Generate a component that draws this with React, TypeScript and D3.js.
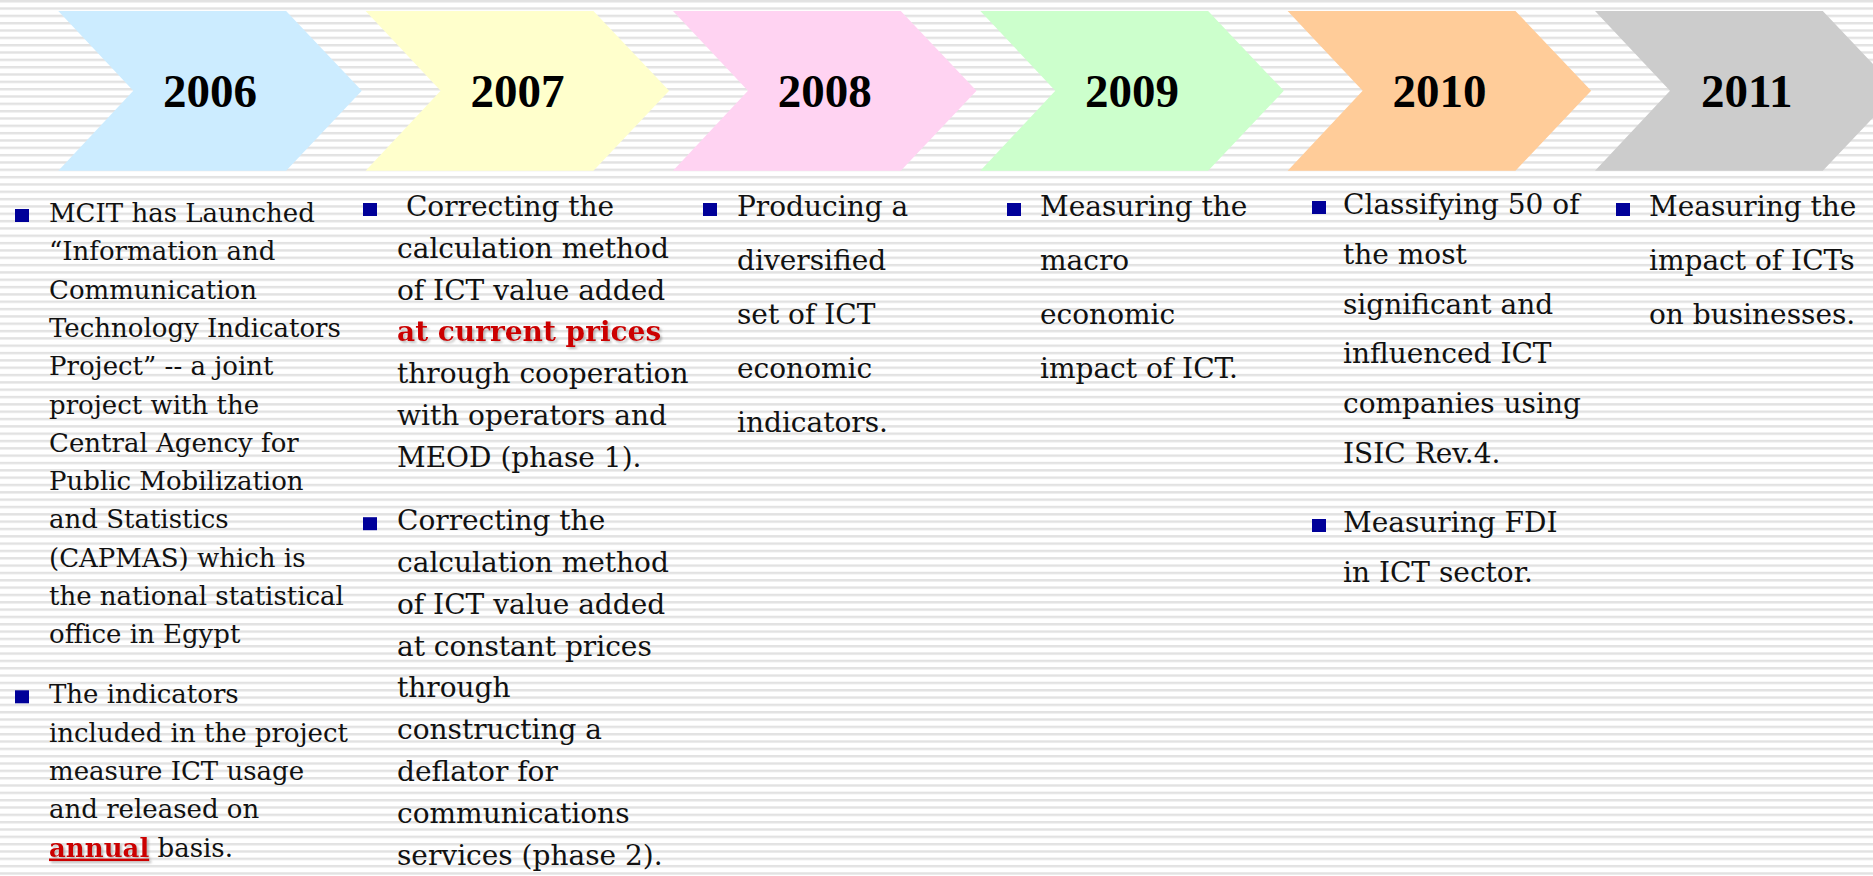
import React from 'react';
import * as d3 from 'd3';

const W = 1873;
const H = 876;

const years = ['2006', '2007', '2008', '2009', '2010', '2011'];
const chevronColors = ['#CCECFF', '#FFFFCC', '#FFD3F2', '#CCFFCC', '#FFCC99', '#CCCCCC'];

const notes2006 = [
  ['MCIT has Launched', '\u201CInformation and', 'Communication', 'Technology Indicators', 'Project\u201D -- a joint', 'project with the', 'Central Agency for', 'Public Mobilization', 'and Statistics', '(CAPMAS) which is', 'the national statistical', 'office in Egypt'],
  ['The indicators', 'included in the project', 'measure ICT usage', 'and released on', '__annual__ basis.'],
];
const notes2007 = [
  [' Correcting the', 'calculation method', 'of ICT value added', '**at current prices**', 'through cooperation', 'with operators and', 'MEOD (phase 1).'],
  ['Correcting the', 'calculation method', 'of ICT value added', 'at constant prices', 'through', 'constructing a', 'deflator for', 'communications', 'services (phase 2).'],
];
const notes2008 = [['Producing a', 'diversified', 'set of ICT', 'economic', 'indicators.']];
const notes2009 = [['Measuring the', 'macro', 'economic', 'impact of ICT.']];
const notes2010 = [
  ['Classifying 50 of', 'the most', 'significant and', 'influenced ICT', 'companies using', 'ISIC Rev.4.'],
  ['Measuring FDI', 'in ICT sector.'],
];
const notes2011 = [['Measuring the', 'impact of ICTs', 'on businesses.']];

const notes = [notes2006, notes2007, notes2008, notes2009, notes2010, notes2011];

// layout (positions / sizes) per column
const layout = [
  { bx: 15, indent: 34, fs: 26, lh: 38.3, y0: 222, gap: 21.7 },
  { bx: 363, indent: 34, fs: 28, lh: 41.8, y0: 216, gap: 21.6 },
  { bx: 703, indent: 34, fs: 28, lh: 54, y0: 216, gap: 0 },
  { bx: 1007, indent: 33, fs: 28, lh: 54, y0: 216, gap: 0 },
  { bx: 1312, indent: 31, fs: 28, lh: 49.8, y0: 214, gap: 19.2 },
  { bx: 1616, indent: 33, fs: 28, lh: 54, y0: 216, gap: 0 },
];

const BODY_FONT = '"DejaVu Serif", serif';
const YEAR_FONT = '"Liberation Serif", "Times New Roman", serif';

function parseLine(line: string) {
  const parts = line.split(/(\*\*.+?\*\*|__.+?__)/).filter((p) => p.length > 0);
  return parts.map((p) => {
    if (p.startsWith('**')) return { text: p.slice(2, -2), red: true, underline: false };
    if (p.startsWith('__')) return { text: p.slice(2, -2), red: true, underline: true };
    return { text: p, red: false, underline: false };
  });
}

export default function App() {
  const xChev = d3.scaleLinear().domain([0, years.length - 1]).range([58.3, 1595]);
  const chevW = 303.5;
  const tip = 75.7;
  const notch = 75;
  const top = 11;
  const bottom = 170.7;
  const mid = (top + bottom) / 2;

  const chevPath = (x: number) => {
    const p = d3.path();
    p.moveTo(x, top);
    p.lineTo(x + chevW - tip, top);
    p.lineTo(x + chevW, mid);
    p.lineTo(x + chevW - tip, bottom);
    p.lineTo(x, bottom);
    p.lineTo(x + notch, mid);
    p.closePath();
    return p.toString();
  };

  return (
    <svg
      width={W}
      height={H}
      viewBox={`0 0 ${W} ${H}`}
      style={{ position: 'absolute', left: 0, top: 0, display: 'block' }}
    >
      <defs>
        <pattern id="stripes" x={0} y={0} width={20} height={7.33} patternUnits="userSpaceOnUse">
          <rect x={0} y={0} width={20} height={7.33} fill="#ffffff" />
          <rect x={0} y={0} width={20} height={2.4} fill="#e2e2e2" />
        </pattern>
        <filter id="shadow" x="-10%" y="-30%" width="130%" height="170%">
          <feDropShadow dx={2} dy={2} stdDeviation={1} floodColor="#888" floodOpacity={0.55} />
        </filter>
      </defs>
      <rect x={0} y={0} width={W} height={H} fill="url(#stripes)" />

      {years.map((yr, i) => (
        <g key={yr}>
          <path d={chevPath(xChev(i))} fill={chevronColors[i]} />
          <text
            x={xChev(i) + chevW / 2}
            y={106.7}
            textAnchor="middle"
            fontFamily={YEAR_FONT}
            fontWeight="bold"
            fontSize={47}
            fill="#000"
          >
            {yr}
          </text>
        </g>
      ))}

      {notes.map((paras, ci) => {
        const L = layout[ci];
        let y = L.y0;
        const out: any[] = [];
        paras.forEach((para, pi) => {
          if (pi > 0) y += L.gap;
          out.push(
            <rect key={`b${pi}`} x={L.bx} y={y - 13} width={14} height={13} fill="#000099" />
          );
          para.forEach((line, li) => {
            const segs = parseLine(line);
            out.push(
              <text
                key={`t${pi}-${li}`}
                x={L.bx + L.indent}
                y={y}
                fontFamily={BODY_FONT}
                fontSize={L.fs}
                fill="#111"
                style={{ whiteSpace: 'pre' }}
              >
                {segs.map((s, si) =>
                  s.red ? (
                    <tspan
                      key={si}
                      fill="#CC0000"
                      fontWeight="bold"
                      filter="url(#shadow)"
                      style={{ textDecoration: s.underline ? 'underline' : 'none' }}
                    >
                      {s.text}
                    </tspan>
                  ) : (
                    <tspan key={si}>{s.text}</tspan>
                  )
                )}
              </text>
            );
            y += L.lh;
          });
        });
        return <g key={ci}>{out}</g>;
      })}
    </svg>
  );
}
